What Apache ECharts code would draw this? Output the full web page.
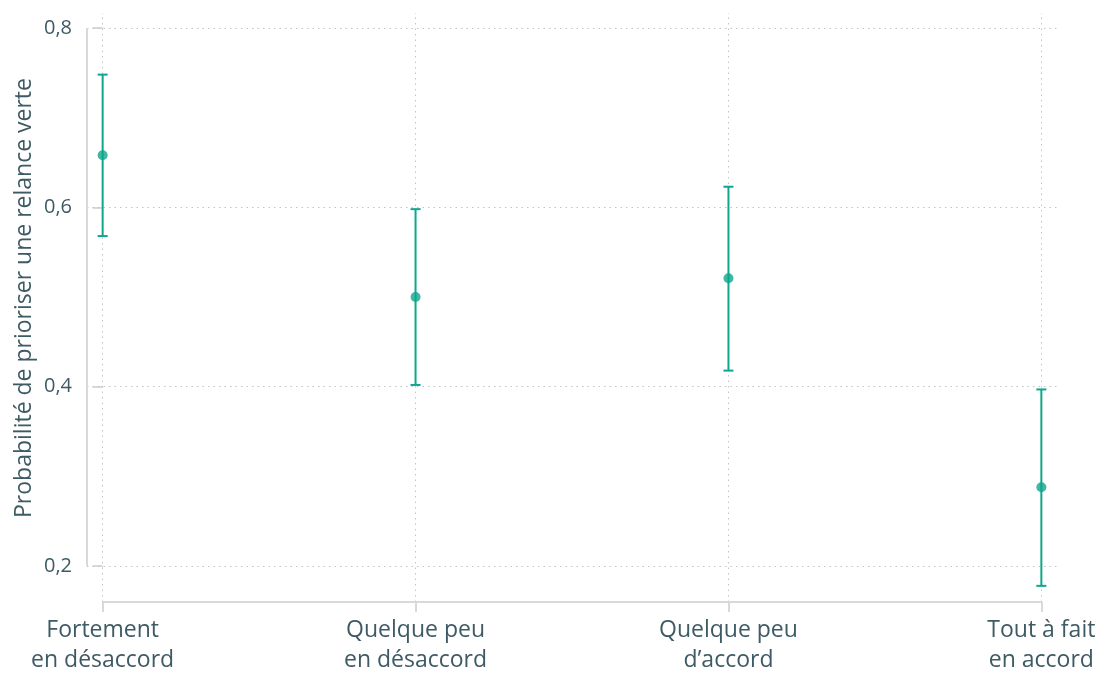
<!DOCTYPE html>
<html>
<head>
<meta charset="utf-8">
<script src="https://cdn.jsdelivr.net/npm/echarts@6/dist/echarts.min.js"></script>
<style>
html,body{margin:0;padding:0;background:#fff;}
#chart{width:1112px;height:675px;}
</style>
</head>
<body>
<div id="chart"></div>
<script>
const categories = ['Fortement\nen désaccord', 'Quelque peu\nen désaccord', 'Quelque peu\nd’accord', 'Tout à fait\nen accord'];
const estimates = [0.658, 0.500, 0.521, 0.288];
const lowerCI = [0.568, 0.402, 0.418, 0.178];
const upperCI = [0.748, 0.598, 0.623, 0.397];
const yTicks = [0.2, 0.4, 0.6, 0.8];
const yAxisTitle = 'Probabilité de prioriser une relance verte';

const TEAL = '#0ea68c';
const TEXT = '#3e5a64';
const AXIS = '#d9d9d9';
const GRID = '#c4c4c4';
const FONT = '"Open Sans", Lato, sans-serif';
const xIdx = categories.map((c, i) => i);
const yMin = 0.16, yMax = 0.8167, xMin = -0.05, xMax = 3.05;

const chart = echarts.init(document.getElementById('chart'));
chart.setOption({
  animation: false,
  grid: {left: 87, right: 55, top: 13, bottom: 72},
  xAxis: {
    type: 'value', min: xMin, max: xMax,
    axisLine: {show: false},
    splitLine: {show: false},
    axisTick: {show: true, customValues: xIdx, length: 10, lineStyle: {color: AXIS, width: 2}},
    axisLabel: {customValues: xIdx, formatter: v => categories[Math.round(v)], color: TEXT,
      fontSize: 23, lineHeight: 30, margin: 13, fontFamily: FONT}
  },
  yAxis: {
    type: 'value', min: yMin, max: yMax,
    axisLine: {show: false},
    splitLine: {show: false},
    axisTick: {show: true, customValues: yTicks, length: 10, lineStyle: {color: AXIS, width: 2}},
    axisLabel: {customValues: yTicks, formatter: v => v.toFixed(1).replace('.', ','), color: TEXT,
      fontSize: 20, margin: 15, fontFamily: FONT}
  },
  graphic: [{
    type: 'text', x: 24, y: 298, rotation: Math.PI / 2,
    style: {text: yAxisTitle, fill: TEXT, fontSize: 23, fontFamily: FONT, align: 'center', verticalAlign: 'middle'}
  }],
  series: [
    {
      type: 'line', data: [], silent: true, z: 1,
      markLine: {
        silent: true, symbol: ['none', 'none'], label: {show: false}, z: 1,
        lineStyle: {color: GRID, width: 1, type: [1.5, 4]},
        data: yTicks.map(v => ({yAxis: v})).concat(xIdx.map(v => ({xAxis: v})))
      }
    },
    {
      type: 'line', data: [], silent: true, z: 1,
      markLine: {
        silent: true, symbol: ['none', 'none'], label: {show: false}, z: 1,
        lineStyle: {color: AXIS, width: 2, type: 'solid'},
        data: [
          [{coord: [xMin, yTicks[0]]}, {coord: [xMin, yTicks[yTicks.length - 1]]}],
          [{coord: [xIdx[0], yMin]}, {coord: [xIdx[xIdx.length - 1], yMin]}]
        ]
      }
    },
    {
      type: 'custom', clip: false, z: 10,
      data: xIdx.map(i => [i, lowerCI[i], upperCI[i]]),
      renderItem: function (params, api) {
        const x = api.value(0);
        const lo = api.coord([x, api.value(1)]);
        const hi = api.coord([x, api.value(2)]);
        const cw = 5;
        const st = {stroke: TEAL, lineWidth: 2};
        return {type: 'group', children: [
          {type: 'line', shape: {x1: lo[0], y1: lo[1], x2: hi[0], y2: hi[1]}, style: st},
          {type: 'line', shape: {x1: lo[0] - cw, y1: lo[1], x2: lo[0] + cw, y2: lo[1]}, style: st},
          {type: 'line', shape: {x1: hi[0] - cw, y1: hi[1], x2: hi[0] + cw, y2: hi[1]}, style: st}
        ]};
      }
    },
    {
      type: 'scatter', symbol: 'circle', symbolSize: 10, z: 11,
      itemStyle: {color: TEAL},
      data: xIdx.map(i => [i, estimates[i]])
    }
  ]
});
</script>
</body>
</html>
